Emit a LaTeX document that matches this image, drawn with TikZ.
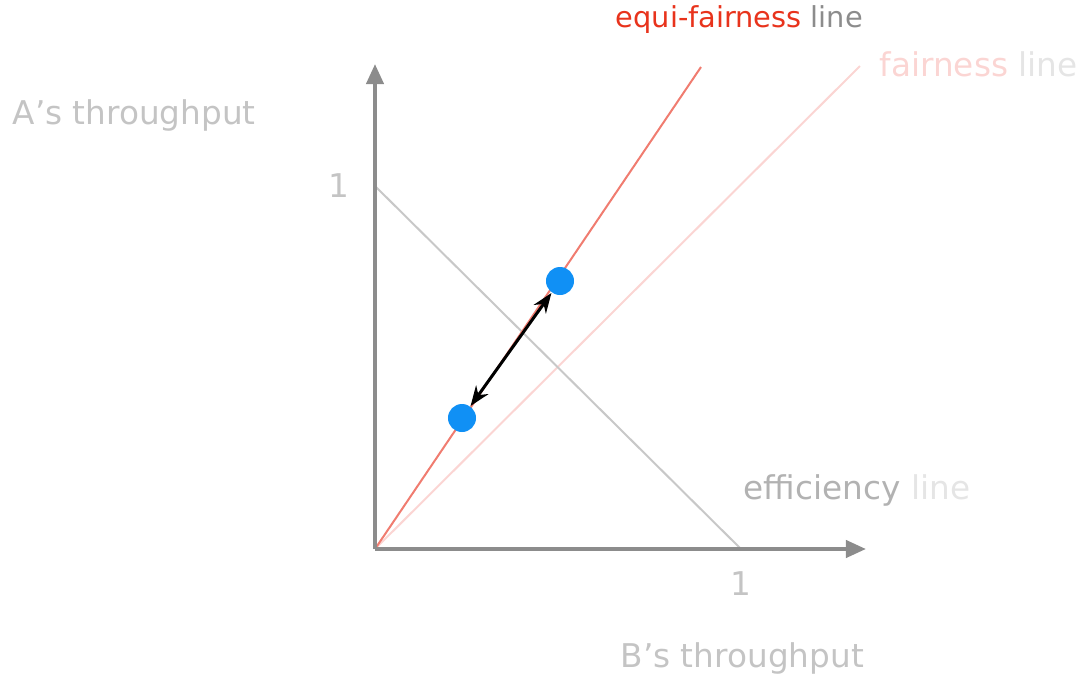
\documentclass[tikz,border=0pt]{standalone}
\usepackage{fontspec}
\setmainfont{DejaVu Sans}
\usetikzlibrary{positioning,arrows.meta}
\definecolor{axGray}{RGB}{140,140,140}
\definecolor{effGray}{RGB}{200,200,200}
\definecolor{txtGray}{RGB}{196,196,196}
\definecolor{eqRed}{RGB}{240,124,112}
\definecolor{eqText}{RGB}{232,51,28}
\definecolor{fairPink}{RGB}{251,213,211}
\definecolor{dotBlue}{RGB}{16,144,245}

\begin{document}
\begin{tikzpicture}[
  x=0.01cm, y=-0.01cm,
  every node/.style={font=\fontsize{9.3}{11}\selectfont, inner sep=0pt},
  axis/.style={-{Triangle[length=0.2cm,width=0.17cm]}, line width=0.04cm, axGray},
  effline/.style={line width=0.02cm, effGray},
  eqline/.style={line width=0.02cm, eqRed},
  fairline/.style={line width=0.02cm, fairPink},
  dot/.style={circle, fill=dotBlue, minimum size=0.28cm},
  label/.style={text=txtGray},
  move/.style={{Stealth[length=0.2cm,width=0.15cm]}-{Stealth[length=0.2cm,width=0.15cm]}, line width=0.03cm, black}
]
\useasboundingbox (0,0) rectangle (1081,678);

% axes
\coordinate (O) at (375,549);
\coordinate (ytip) at (375,64);
\coordinate (xtip) at (866,549);
\coordinate (y1) at (375,186);
\coordinate (x1) at (741,549);
\coordinate (eqend) at (701,67);
\coordinate (fairend) at (860,66);

% fairness and efficiency lines
\draw[fairline] (O) -- (fairend);
\draw[effline] (y1) -- (x1);
\draw[eqline] (O) -- (eqend);
\draw[axis] (O) -- (ytip);
\draw[axis] (O) -- (xtip);

% the two operating points
\node[dot] (lo) at (462,418) {};
\node[dot] (hi) at (560,281) {};
\draw[move] (lo) -- (hi);

% labels
\node[label, anchor=west] (Athr) at (12,115) {A’s throughput};
\node[label, anchor=west] (Bthr) at (620,658) {B’s throughput};
\node[label, left=0.25cm of y1] (one y) {1};
\node[label, below=0.22cm of x1] (one x) {1};
\node[anchor=west, font=\fontsize{8.2}{10}\selectfont] (eqlab) at (615,20) {\textcolor{eqText}{equi-fairness} \textcolor{black!45}{line}};
\node[anchor=west] (fairlab) at (879,64) {\textcolor{fairPink}{fairness} \textcolor{black!10}{line}};
\node[anchor=west] (efflab) at (743,490) {\textcolor{black!30}{efficiency} \textcolor{black!10}{line}};
\end{tikzpicture}
\end{document}
